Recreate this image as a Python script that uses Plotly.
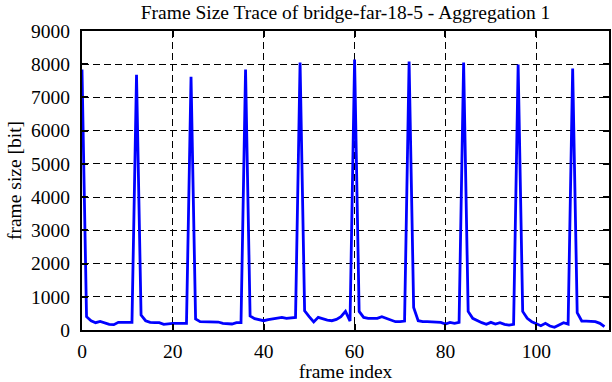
import plotly.graph_objects as go

frame_index = list(range(116))
frame_size = [
    7840, 400, 280, 220, 260, 220, 170, 160, 230, 230, 220, 230,
    7680, 450, 280, 230, 220, 220, 170, 190, 200, 200, 200, 200,
    7620, 330, 250, 250, 250, 250, 240, 200, 180, 180, 220, 220,
    7840, 420, 340, 310, 280, 310, 330, 350, 380, 350, 370, 380,
    8050, 580, 400, 240, 380, 330, 300, 280, 320, 400, 560, 270,
    8140, 560, 380, 350, 350, 350, 400, 350, 300, 250, 250, 270,
    8080, 680, 280, 250, 250, 250, 230, 230, 180, 230, 200, 230,
    8050, 560, 350, 280, 220, 170, 230, 180, 220, 170, 150, 170,
    7990, 560, 350, 250, 180, 130, 200, 120, 80, 160, 220, 180,
    7870, 520, 270, 270, 250, 250, 200, 100,
]
x_ticks = [0, 20, 40, 60, 80, 100]
y_ticks = [0, 1000, 2000, 3000, 4000, 5000, 6000, 7000, 8000, 9000]

FONT = "Liberation Serif, Times New Roman, serif"
tfont = dict(family=FONT, size=19.5, color="black")

fig = go.Figure()
fig.add_trace(go.Scatter(
    x=frame_index, y=frame_size, mode="lines",
    line=dict(color="#0000ff", width=2.8),
    showlegend=False,
))

axis_common = dict(
    showline=True, linecolor="black", linewidth=2, mirror="allticks",
    ticks="inside", ticklen=6, tickwidth=1.5, tickcolor="black",
    showgrid=True, gridcolor="black", gridwidth=1, griddash="7px,4px",
    zeroline=False, automargin=False,
    tickfont=tfont,
)

fig.update_layout(
    width=612, height=382,
    margin=dict(l=82, r=3, t=31, b=52),
    paper_bgcolor="white", plot_bgcolor="white",
    font=tfont,
    title=dict(text="Frame Size Trace of bridge-far-18-5 - Aggregation 1",
               x=0.5, xref="paper", xanchor="center",
               y=1 - 12 / 382, yanchor="middle",
               font=tfont),
    xaxis=dict(range=[0, 116], tickvals=x_ticks, ticklabelstandoff=3,
               title=dict(text="frame index", standoff=0, font=tfont),
               **axis_common),
    yaxis=dict(range=[0, 9000], tickvals=y_ticks, ticklabelstandoff=6,
               title=dict(text="frame size [bit]", standoff=4, font=tfont),
               **axis_common),
)

fig.write_html(
    "out.html",
    config={"displayModeBar": False},
    post_script="document.body.style.margin='0';document.body.style.overflow='hidden';",
)
